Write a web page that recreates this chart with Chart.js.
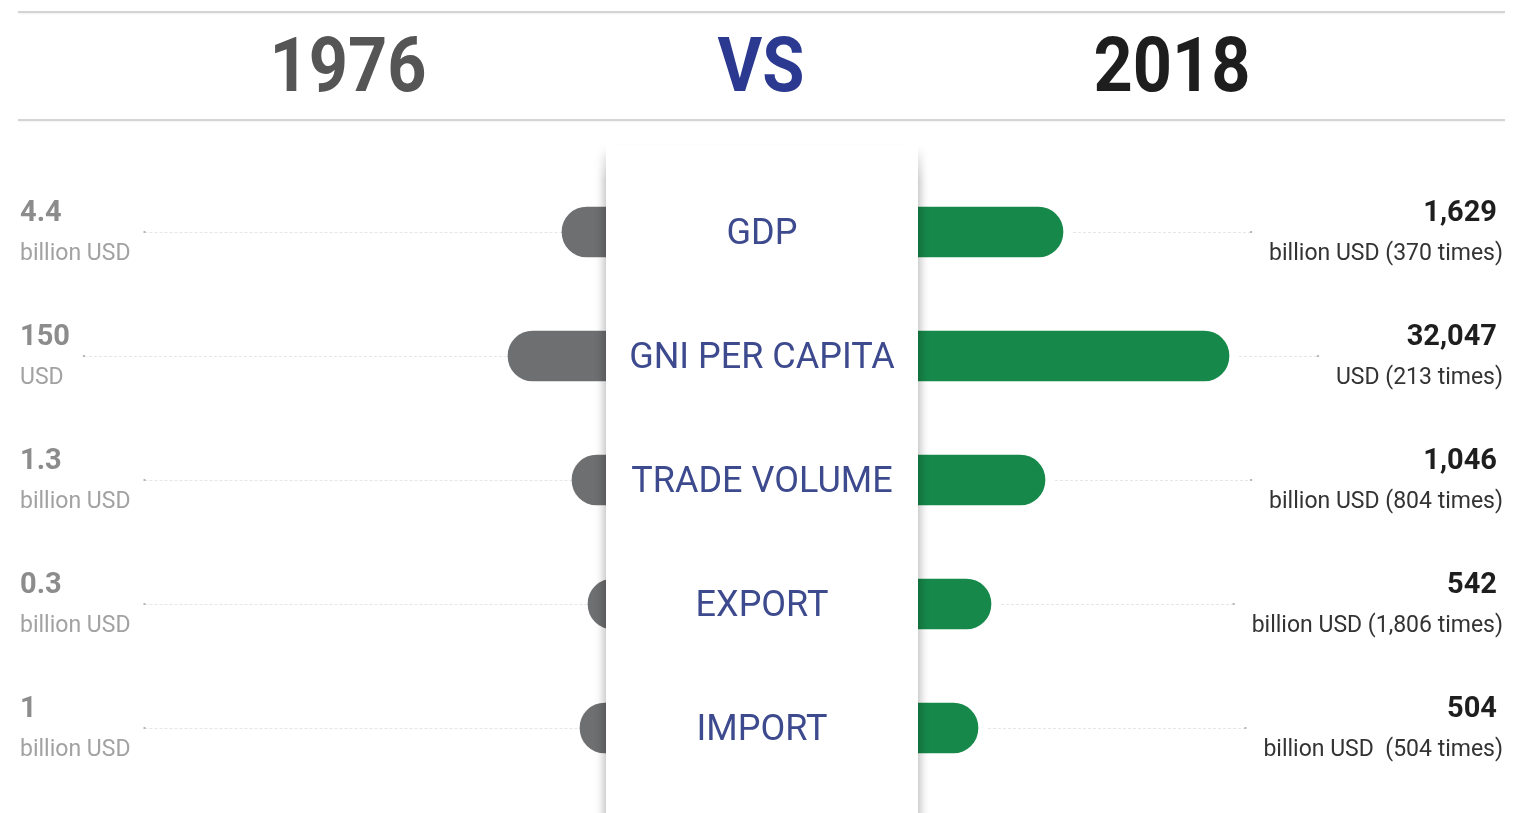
<!DOCTYPE html>
<html>
<head>
<meta charset="utf-8">
<script src="https://cdn.jsdelivr.net/npm/chart.js@4.4.0/dist/chart.umd.min.js"></script>
<style>
  html, body { margin: 0; padding: 0; background: #fff; }
  body { width: 1515px; height: 813px; position: relative; overflow: hidden; font-family: Roboto, "Open Sans", sans-serif; }
  .rule { position: absolute; left: 18px; width: 1487px; height: 2px; background: #d4d4d4; box-shadow: 0 1px 2px rgba(0,0,0,.06); }
  .year { position: absolute; top: 20px; width: 300px; margin-left: -150px; text-align: center;
          font-weight: 700; font-size: 76px; line-height: 90px; transform: scaleX(.9); }
  .side { position: absolute; top: 170px; height: 620px; }
  #panel { position: absolute; left: 606px; width: 312px; top: 145px; height: 700px; background: #fff; z-index: 2;
           box-shadow: -7px 0 9px -5px rgba(0,0,0,.28), 7px 0 9px -5px rgba(0,0,0,.28); }
  #fade { position: absolute; left: 580px; width: 364px; top: 140px; height: 40px; z-index: 3;
          background: linear-gradient(#fff, rgba(255,255,255,0)); }
  .cat { position: absolute; left: 0; width: 312px; text-align: center; color: #3d4a8e;
         font-size: 36px; line-height: 40px; margin-top: -20px; }
</style>
</head>
<body>
<div class="rule" style="top:11px"></div>
<div class="rule" style="top:119px"></div>
<div class="year" style="left:348px;color:#555">1976</div>
<div class="year" style="left:761px;color:#2b3990">VS</div>
<div class="year" style="left:1172px;color:#1e1e1e">2018</div>

<div class="side" style="left:0;width:660px"><canvas id="left"></canvas></div>
<div class="side" style="left:864px;width:651px"><canvas id="right"></canvas></div>
<div id="panel"></div>
<div id="fade"></div>

<script>
// ---- data read off the infographic (bar lengths are drawn, not to value scale)
const categories = ["GDP", "GNI PER CAPITA", "TRADE VOLUME", "EXPORT", "IMPORT"];
const bar1976 = [44, 98, 34, 18, 26];
const bar2018 = [145, 311, 127, 73, 60];
const val1976 = ["4.4", "150", "1.3", "0.3", "1"];
const unit1976 = ["billion USD", "USD", "billion USD", "billion USD", "billion USD"];
const val2018 = ["1,629", "32,047", "1,046", "542", "504"];
const unit2018 = ["billion USD (370 times)", "USD (213 times)", "billion USD (804 times)",
                  "billion USD (1,806 times)", "billion USD  (504 times)"];

const HIDDEN = 54;          // part of each bar tucked under the centre panel
const VAL_DY = -18, UNIT_DY = 22;

// texts + dotted leader line for one side
function sidePlugin(side) {
  return {
    id: "labels-" + side,
    beforeDatasetsDraw(chart) {
      const { ctx, scales: { x, y } } = chart;
      const vals = side === "left" ? val1976 : val2018;
      const units = side === "left" ? unit1976 : unit2018;
      const bars = side === "left" ? bar1976 : bar2018;
      ctx.save();
      ctx.textBaseline = "middle";
      vals.forEach((v, i) => {
        const cy = y.getPixelForValue(i);
        const barEnd = x.getPixelForValue(bars[i]);
        ctx.font = "700 29px Roboto";
        let wv = ctx.measureText(v).width;
        ctx.font = "23px Roboto";
        let wu = ctx.measureText(units[i]).width;
        let a, b;
        if (side === "left") {
          ctx.textAlign = "left";
          ctx.font = "700 29px Roboto"; ctx.fillStyle = "#8c8c8c"; ctx.fillText(v, 20, cy + VAL_DY);
          ctx.font = "23px Roboto"; ctx.fillStyle = "#a2a2a2"; ctx.fillText(units[i], 20, cy + UNIT_DY);
          a = 20 + Math.max(wv, wu) + 14; b = barEnd;
        } else {
          const W = chart.width;
          ctx.textAlign = "right";
          ctx.font = "700 29px Roboto"; ctx.fillStyle = "#1e1e1e"; ctx.fillText(v, W - 18, cy + VAL_DY);
          ctx.font = "23px Roboto"; ctx.fillStyle = "#333"; ctx.fillText(units[i], W - 12, cy + UNIT_DY);
          a = barEnd + 10; b = W - 12 - wu - 18;
        }
        ctx.strokeStyle = "#e6e6e6"; ctx.lineWidth = 1;
        ctx.setLineDash([3, 2]);
        ctx.beginPath(); ctx.moveTo(a, Math.round(cy) + .5); ctx.lineTo(b, Math.round(cy) + .5); ctx.stroke();
        ctx.fillStyle = "#b5b5b5";
        const dotX = side === "left" ? a : b;
        ctx.fillRect(dotX - 1, Math.round(cy) - 1, 2, 2);
      });
      ctx.restore();
    }
  };
}

function makeSide(id, bars, color, side, max) {
  return new Chart(document.getElementById(id), {
    type: "bar",
    data: {
      labels: categories,
      datasets: [{ data: bars, base: -HIDDEN, backgroundColor: color, barThickness: 50,
                   borderRadius: 25, borderSkipped: "start" }]
    },
    options: {
      indexAxis: "y",
      responsive: true, maintainAspectRatio: false, animation: false,
      layout: { padding: 0 },
      plugins: { legend: { display: false }, tooltip: { enabled: false } },
      scales: {
        x: { type: "linear", min: -HIDDEN, max, reverse: side === "left", display: false },
        y: { display: false }
      }
    },
    plugins: [sidePlugin(side)]
  });
}

makeSide("left", bar1976, "#6e6f71", "left", 606);
makeSide("right", bar2018, "#16884a", "right", 597);

// centre column labels, one per row (rows are 124px apart starting at 232)
const panel = document.getElementById("panel");
categories.forEach((c, i) => {
  const d = document.createElement("div");
  d.className = "cat";
  d.textContent = c;
  d.style.top = (170 + 62 + 124 * i - 145) + "px";
  panel.appendChild(d);
});
</script>
</body>
</html>
